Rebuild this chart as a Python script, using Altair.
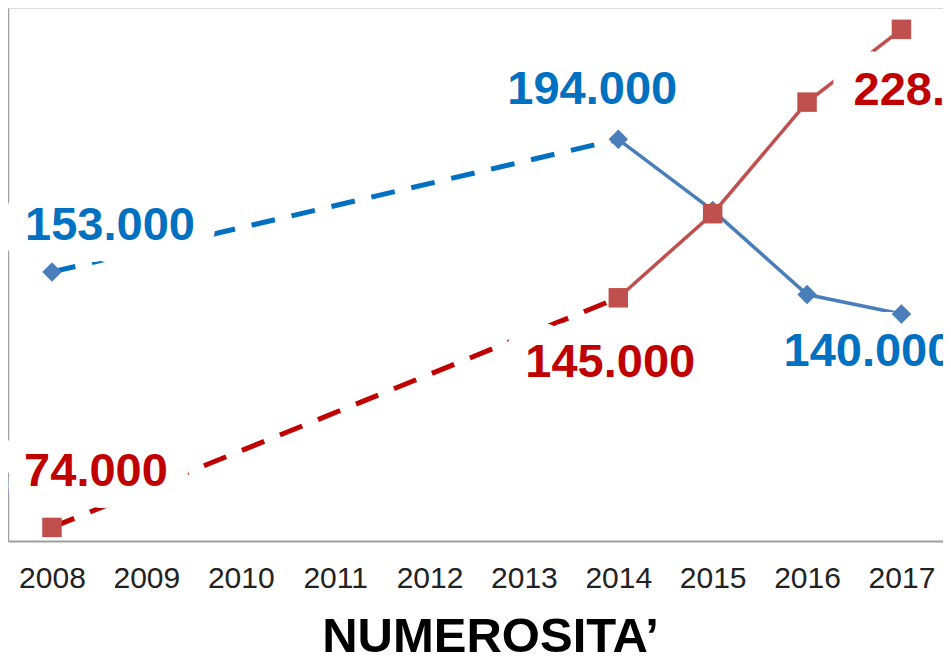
import altair as alt
import pandas as pd

# ---- data ----
years = [2008, 2014, 2015, 2016, 2017]
blue_values = [153000, 194000, 172000, 146000, 140000]
red_values = [74000, 145000, 171000, 205500, 228000]
axis_years = [2008, 2009, 2010, 2011, 2012, 2013, 2014, 2015, 2016, 2017]
title_text = "NUMEROSITA\u2019"


def fmt(v):
    return f"{v:,}".replace(",", ".")


blue = pd.DataFrame({"anno": years, "valore": blue_values})
red = pd.DataFrame({"anno": years, "valore": red_values})
blue["etichetta"] = blue["valore"].map(fmt)
red["etichetta"] = red["valore"].map(fmt)

FONT = "Liberation Sans"
BLUE_LBL = "#0070C0"
RED_LBL = "#C00000"
BLUE_MK = "#4A7EBB"
RED_MK = "#C0504D"

x = alt.X(
    "anno:Q",
    scale=alt.Scale(domain=[2007.534, 2017.525], nice=False, zero=False),
    axis=alt.Axis(
        values=axis_years,
        format="d",
        ticks=False,
        grid=False,
        labelFont=FONT,
        labelFontSize=30,
        labelColor="#222222",
        labelBaseline="alphabetic",
        labelPadding=46,
        labelFlush=False,
        labelOverlap=False,
        domainColor="#A0A0A0",
        domainWidth=2,
        title=title_text,
        titleFont=FONT,
        titleFontSize=49,
        titleFontWeight="bold",
        titleColor="#000000",
        titleBaseline="alphabetic",
        titleAlign="center",
        titleX=482,
        titleY=110,
    ),
)
y = alt.Y(
    "valore:Q",
    scale=alt.Scale(domain=[69800, 234600], nice=False, zero=False),
    axis=alt.Axis(
        ticks=False,
        labels=False,
        grid=False,
        title=None,
        domainColor="#A0A0A0",
        domainWidth=1.5,
    ),
)

layers = []

# dashed part 2008 -> 2014
for df, col in [(blue, BLUE_LBL), (red, RED_LBL)]:
    layers.append(
        alt.Chart(df[df["anno"] <= 2014])
        .mark_line(color=col, strokeWidth=5, strokeDash=[24, 17], strokeCap="butt")
        .encode(x=x, y=y)
    )
# solid part 2014 -> 2017
for df, col in [(blue, BLUE_MK), (red, RED_MK)]:
    layers.append(
        alt.Chart(df[df["anno"] >= 2014])
        .mark_line(color=col, strokeWidth=3.5)
        .encode(x=x, y=y)
    )

# label placement (layout only): (series, year) -> dx, dy
label_specs = [
    (blue, 2008, BLUE_LBL, 58, -32),
    (blue, 2014, BLUE_LBL, -26, -35),
    (blue, 2017, BLUE_LBL, -33, 52),
    (red, 2008, RED_LBL, 44, -41),
    (red, 2014, RED_LBL, -8, 79),
    (red, 2017, RED_LBL, 37, 76),
]

# white boxes behind labels
for df, yr, col, dx, dy in label_specs:
    layers.append(
        alt.Chart(df[df["anno"] == yr])
        .mark_text(
            font=FONT, fontSize=47, fontWeight="bold", align="center",
            baseline="alphabetic", dx=dx, dy=dy, color="white",
            stroke="white", strokeWidth=44, strokeJoin="round", clip=True,
        )
        .encode(x=x, y=y, text="etichetta:N")
    )

# markers
layers.append(
    alt.Chart(blue)
    .mark_point(shape="diamond", filled=True, size=380, color=BLUE_MK, opacity=1)
    .encode(x=x, y=y)
)
layers.append(
    alt.Chart(red)
    .mark_point(shape="square", filled=True, size=380, color=RED_MK, opacity=1)
    .encode(x=x, y=y)
)

# labels
for df, yr, col, dx, dy in label_specs:
    layers.append(
        alt.Chart(df[df["anno"] == yr])
        .mark_text(
            font=FONT, fontSize=47, fontWeight="bold", align="center",
            baseline="alphabetic", dx=dx, dy=dy, color=col, clip=True,
        )
        .encode(x=x, y=y, text="etichetta:N")
    )

chart = (
    alt.layer(*layers)
    .properties(
        width=943,
        height=533,
        autosize=alt.AutoSizeParams(type="none"),
        padding={"left": 0, "top": 0, "right": -8, "bottom": 114},
    )
    .configure_view(stroke=None)
    .configure(background="white")
)

chart.save("out.html", embed_options={"renderer": "svg", "actions": False})
